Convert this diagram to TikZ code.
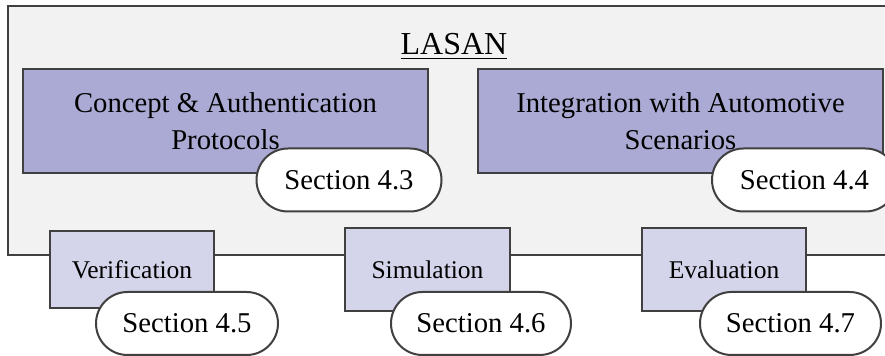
\documentclass[tikz,border=0pt]{standalone}
\usepackage{fontspec}
\setmainfont{Liberation Serif}
\definecolor{framefill}{HTML}{F2F2F2}
\definecolor{mainfill}{HTML}{AAAAD4}
\definecolor{subfill}{HTML}{D4D4EA}
\definecolor{edge}{HTML}{404040}
\tikzset{
  frame/.style={draw=edge, line width=1pt, fill=framefill},
  mainbox/.style={draw=edge, line width=1pt, fill=mainfill, minimum width=202.5pt,
    minimum height=52pt, align=center, inner sep=0pt,
    font=\fontsize{14.35pt}{18.5pt}\selectfont},
  subbox/.style={draw=edge, line width=1pt, fill=subfill, minimum width=82pt,
    minimum height=41.5pt, inner sep=0pt, font=\fontsize{12.75pt}{15pt}\selectfont},
  secpill/.style={draw=edge, line width=1pt, fill=white, rounded corners=15.75pt,
    minimum height=31.5pt, minimum width=92pt, inner sep=0pt,
    font=\fontsize{14.35pt}{17pt}\selectfont},
}
\begin{document}
\begin{tikzpicture}[x=0.5pt, y=-0.5pt]
\useasboundingbox (0,0) rectangle (885,356);
\clip (0,0) rectangle (885,356);

% outer LASAN frame (runs off the right side)
\draw[frame] (8,6) rectangle (905,255);
\node[anchor=base, inner sep=0pt, font=\fontsize{16pt}{19pt}\selectfont] (title) at (454,55) {\underline{LASAN}};

% main building blocks
\node[mainbox] (concept) at (225.5,121) {Concept \& Authentication\\Protocols};
\node[mainbox] (integ) at (680.5,121) {Integration with Automotive\\Scenarios};
\node[secpill, minimum width=92.5pt] (s43) at (349,180) {Section 4.3};
\node[secpill, minimum width=92.5pt] (s44) at (804.5,180) {Section 4.4};

% supporting activities
\node[subbox, minimum height=38.5pt] (verif) at (132,269.5) {Verification};
\node[subbox, minimum width=82.5pt] (simu) at (427.5,269.5) {Simulation};
\node[subbox] (evalu) at (724,269.5) {Evaluation};
\node[secpill, minimum width=91pt] (s45) at (187,323.5) {Section 4.5};
\node[secpill, minimum width=90pt] (s46) at (481,323.5) {Section 4.6};
\node[secpill, minimum width=90.5pt] (s47) at (790.5,323.5) {Section 4.7};
\end{tikzpicture}
\end{document}
